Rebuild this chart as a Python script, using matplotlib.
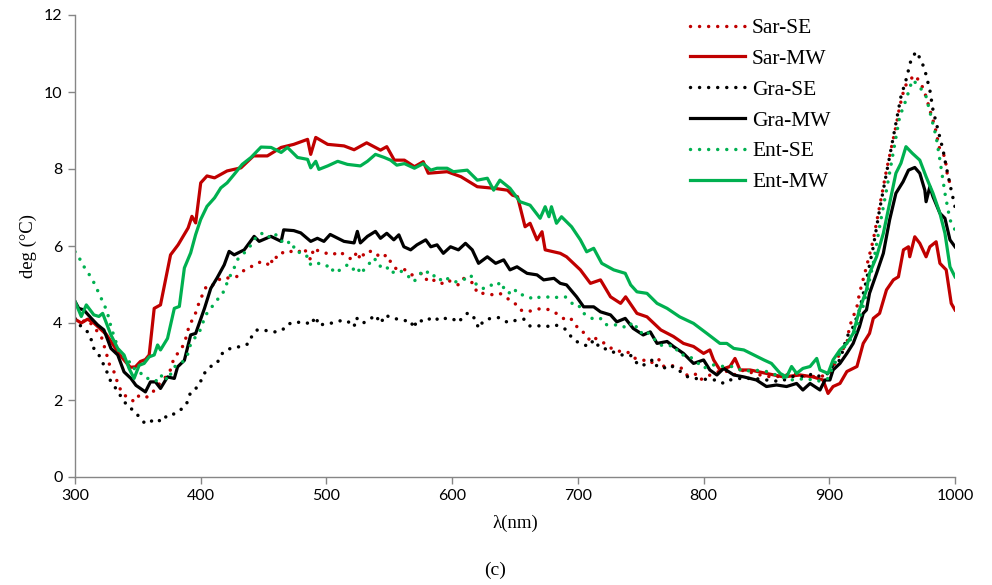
import matplotlib
matplotlib.use("Agg")
import matplotlib.pyplot as plt

# ---------------- data ----------------
sar_mw_x = [300,305,310,315,320,325,330,335,340,344,348,352,356,359,363,368,376,382,390,393,396,400,405,411,421,432,442,453,464,474,485,487.5,491.5,501,514,522,532,543,548,554,562,570,577,581,596,607,620,633,644,648,652,658,662,667.5,671.5,674,686,691,702,710,718,726,734,738,747,755,766,776,784,792,800,805,808,813,821,825,829,837,850,863.5,877,887,895,899,903,908.5,914,922,927,932,935,940,945.5,951,955,959,963,964,968,972,977,980,985,988,993,997,1000]
sar_mw_y = [4.1,4.0,4.1,4.0,3.85,3.7,3.45,3.2,3.0,2.85,2.86,3.0,3.05,3.17,4.38,4.47,5.77,6.03,6.47,6.77,6.6,7.64,7.82,7.77,7.95,8.03,8.34,8.34,8.56,8.64,8.77,8.38,8.82,8.64,8.6,8.5,8.68,8.49,8.58,8.23,8.23,8.06,8.19,7.89,7.93,7.8,7.54,7.5,7.45,7.32,7.28,6.5,6.59,6.16,6.37,5.9,5.81,5.72,5.38,5.03,5.12,4.68,4.51,4.68,4.25,4.16,3.82,3.65,3.47,3.39,3.21,3.3,3.04,2.78,2.87,3.08,2.78,2.78,2.69,2.6,2.65,2.6,2.52,2.17,2.35,2.43,2.74,2.87,3.47,3.73,4.12,4.25,4.86,5.12,5.2,5.9,5.98,5.72,6.24,6.07,5.72,5.98,6.11,5.55,5.38,4.51,4.34]

gra_mw_x = [300,303,307,313,318,323,328.6,334,339,344.5,348.5,356,360,364,368,373.6,379,381.6,387,392,396,403,408,413,418.7,422.6,426.6,434.6,442.5,446.5,455.8,464,466,474,479.6,487.5,492.8,498,503,514,522,524.6,527,532.6,539,543,548,553.6,557.6,561.6,567,572,579,583,588,593,598.7,605,610.6,616,621,628,634.6,641,646,651.6,659.6,667.5,672.8,681,686,691,699,704.6,712.6,718,726,731,737.7,744,752,757.6,763,771,776,784,792,800,805,810.6,816,824,832,842,850,858,866,874,879,884.7,892.6,896.6,900.5,903,908.5,914,919,924,927,929.6,932,937.6,943,948,953,958.7,963,968,972,976,977,980,982.5,988,992,996,1000]
gra_mw_y = [4.56,4.38,4.34,4.12,3.95,3.82,3.34,3.17,2.73,2.56,2.38,2.21,2.47,2.47,2.3,2.6,2.56,2.86,3.03,3.69,3.73,4.38,4.9,5.17,5.51,5.86,5.77,5.9,6.25,6.12,6.25,6.12,6.42,6.4,6.34,6.12,6.2,6.12,6.3,6.12,6.08,6.38,6.08,6.25,6.38,6.2,6.33,6.16,6.29,5.98,5.9,6.03,6.16,5.98,6.03,5.81,5.98,5.9,6.07,5.9,5.55,5.72,5.55,5.64,5.38,5.46,5.29,5.25,5.12,5.16,5.03,4.99,4.68,4.42,4.42,4.29,4.21,4.03,4.12,3.86,3.69,3.77,3.47,3.52,3.39,3.21,2.95,3.04,2.78,2.65,2.82,2.65,2.6,2.52,2.35,2.39,2.35,2.43,2.26,2.43,2.26,2.52,2.52,2.78,2.95,3.21,3.47,3.9,4.25,4.34,4.77,5.29,5.81,6.68,7.37,7.67,7.97,8.04,7.89,7.45,7.15,7.54,7.28,6.85,6.72,6.16,5.98]

ent_mw_x = [300,305,309,315,319,322,328.6,334,339,343,347,351,355,359,363,365.7,368,373.6,379,383,387,392,396,400,405,411,416,421,426.6,433,440,448,456,464,469,477,485,487.5,491.5,494,501,509,516.7,527,532.6,539,546,551,556,562,570,577,583,588,596,601,612,620,628,633,638,646,654,662,670,674,677,679,683,687,695,702,707,712.6,719,728.5,737.7,742,747,755,763,771,781,792,802.6,813,818.5,824,832,840,848,854,861,866,870,874,879,884.7,890,892.6,899,903,908.5,914,919,924,929.6,932,937.6,943,948,953,957,961,966,972,977,982.5,988,992,996,1000]
ent_mw_y = [4.56,4.17,4.47,4.21,4.17,4.25,3.69,3.34,3.17,2.82,2.56,2.9,2.95,3.12,3.17,3.43,3.3,3.6,4.38,4.43,5.43,5.82,6.3,6.69,7.03,7.25,7.51,7.64,7.86,8.12,8.3,8.57,8.56,8.43,8.56,8.3,8.25,8.03,8.2,7.99,8.08,8.2,8.12,8.08,8.2,8.38,8.3,8.23,8.1,8.14,8.02,8.14,7.97,8.02,8.02,7.93,7.97,7.71,7.76,7.45,7.71,7.5,7.15,7.06,6.72,7.02,6.76,7.02,6.59,6.76,6.5,6.16,5.85,5.94,5.55,5.38,5.29,4.99,4.81,4.77,4.51,4.38,4.16,3.99,3.73,3.47,3.47,3.34,3.3,3.17,3.04,2.95,2.69,2.6,2.87,2.69,2.82,2.87,3.08,2.78,2.69,3.04,3.3,3.47,3.73,4.34,4.86,5.29,5.72,6.33,7.11,7.89,8.15,8.58,8.41,8.23,7.8,7.37,6.85,6.33,5.46,5.2]

sar_se_x = [300,305,310,315,321,325,327,331,335,339,343,347,351,354,358,362,366,371,375,379,383,387,391,395,399,405,411,416,424,429,433,438.5,445,450,456,457,462,466,471.6,477,482,487.5,490,494,499,505,510,520.6,524.6,527,531,538,543,548,551,555,563,568,577,580.6,587,592,596,605,609,617,620,625,633,638,643.7,649,654,660,665,671.5,678,685,690,694,697,700.7,706,710,714,719,728.5,734,739,745.7,752,757.6,764,767,773,783,786.7,793,797,802.6,808,816,824,832,840,850,861,871,882,892.6,899,903,908.5,914,916,922,924,929.6,935,940,945.5,949.5,953,956,960,964,968,973,977,980,984,988,992,994.5,1000]
sar_se_y = [4.08,4.03,4.08,3.9,3.64,3.21,2.95,2.73,2.34,2.12,2.08,1.95,2.12,2.08,2.08,2.21,2.38,2.56,2.69,3.12,3.25,3.47,3.95,4.17,4.56,4.99,4.99,5.17,5.17,5.21,5.34,5.43,5.56,5.6,5.47,5.73,5.69,5.86,5.86,5.82,5.95,5.64,5.95,5.86,5.82,5.77,5.86,5.64,5.86,5.64,5.86,5.86,5.69,5.77,5.59,5.42,5.38,5.25,5.29,5.07,5.12,5.03,5.12,4.99,5.16,5.03,4.77,4.77,4.73,4.77,4.64,4.55,4.34,4.29,4.34,4.38,4.34,4.21,4.08,4.12,4.03,3.82,3.73,3.52,3.6,3.52,3.3,3.26,3.26,3.08,3.04,2.95,3.08,2.87,2.91,2.82,2.65,2.69,2.52,2.61,2.69,2.78,2.65,2.78,2.69,2.61,2.61,2.69,2.61,2.61,2.65,2.87,3.21,3.47,3.9,4.42,4.77,5.46,6.16,7.02,7.97,8.58,9.1,9.62,10.14,10.31,10.44,10.22,9.88,9.53,9.1,8.49,8.32,7.71,7.54]

gra_se_x = [300,305,310,313,315,319,325,327,331,334,338,342,347,351,356,362,366,368,372,376,381.6,385.6,389.5,392,396,399,401.5,405,409,413,416,420,424,428,432,438.5,441,445,450,456,461,465,470,474,478,483.6,487.5,491.5,494,499.5,506,513,518,522,523.6,528.6,534,539,543,547,552,557.6,563,567,569.5,572,579,584,590.7,594.7,600,605,609,613,618.5,621,625,630.5,637,641,645,651.6,657,662,667.5,673,678,683,690,696.7,702,708.6,712.6,718,724.5,730,735,741.7,745.7,749.7,755,760,763,768,773,780,786.7,793,801,805,810.6,816,821,829,840,850,861,871,882,887,892.6,899,903,908.5,914,919,924,929.6,935,940,945.5,949.5,953,957,961,965,969,973,976,980,982.5,986.5,990.5,993,997,1000]
gra_se_y = [4.12,3.9,3.77,3.56,3.34,3.17,2.77,2.56,2.38,2.21,2.03,1.82,1.73,1.56,1.38,1.47,1.51,1.43,1.56,1.56,1.73,1.77,1.95,2.21,2.3,2.38,2.64,2.77,2.9,2.95,3.17,3.3,3.34,3.38,3.38,3.47,3.69,3.82,3.82,3.77,3.77,3.82,3.99,3.97,4.02,4.02,3.95,4.17,3.93,3.99,4.0,4.08,4.02,3.9,4.14,3.99,4.08,4.21,3.99,4.21,4.12,4.1,4.06,4.06,3.86,4.08,4.03,4.16,4.06,4.12,4.12,4.01,4.18,4.27,4.1,3.86,4.06,4.12,4.14,4.06,4.01,4.08,4.1,3.92,3.92,3.94,3.9,3.94,3.84,3.56,3.47,3.39,3.56,3.34,3.32,3.21,3.17,3.17,3.0,2.88,2.94,3.06,2.87,2.82,2.91,2.78,2.61,2.56,2.54,2.52,2.52,2.43,2.52,2.56,2.56,2.52,2.48,2.61,2.61,2.69,2.61,2.69,2.91,3.04,3.64,3.9,4.34,5.12,5.98,6.94,7.89,8.58,9.19,9.88,10.31,10.83,11.05,10.83,10.57,10.05,9.53,9.01,8.49,8.06,7.45,7.02]

ent_se_x = [300,302.6,305,309,313,316,319,322,325,327,328.6,330.7,333,335,338,340.5,344.5,348.5,352.5,356,362,366,370,373.6,379,385.6,389.5,391,395,399,401.5,404,408,413,417,422.6,426.6,429,434.6,438.5,442.5,448,453,458.5,464,469,471.6,475.6,479.6,485,487.5,492.8,499.5,503,506,511,516.7,520.6,524.6,527,531,538,542,547,551,557.6,564,569.5,575,579,583,588,592,597,603,609,614.6,618.5,622.5,626.5,630.5,634.6,638.6,642.6,645,649,653,658,665,670,675.6,679.5,685,690,696.7,700.7,703,708.6,714,719,723,728.5,734,739,744,749.7,753.6,759,765.6,771,776,781.5,786.7,793,800,805,808,816,824,832,840,850,861,871,882,890,899,903,908.5,914,919,924,929.6,935,940,945.5,950.8,956,961,966,971,977,981,985,988,992,996,1000]
ent_se_y = [5.85,5.77,5.56,5.38,5.17,4.99,4.77,4.56,4.34,4.12,3.9,3.69,3.47,3.25,3.21,2.99,2.99,2.73,2.69,2.56,2.56,2.47,2.69,2.51,2.86,2.99,3.17,3.38,3.6,3.77,3.99,4.21,4.38,4.6,4.73,5.17,5.43,5.64,5.82,5.95,6.17,6.34,6.21,6.34,6.12,6.17,5.95,5.99,5.77,5.73,5.51,5.56,5.47,5.51,5.3,5.38,5.51,5.38,5.47,5.27,5.43,5.69,5.47,5.51,5.29,5.38,5.25,5.07,5.29,5.38,5.2,5.25,5.07,5.16,5.07,5.12,5.25,5.03,4.9,4.9,4.99,4.94,5.07,4.81,4.77,4.9,4.73,4.73,4.61,4.68,4.68,4.64,4.68,4.68,4.47,4.47,4.29,4.16,4.08,4.12,3.95,3.95,3.95,3.86,4.03,3.73,3.82,3.64,3.43,3.39,3.43,3.17,3.17,3.04,2.82,2.91,2.91,2.87,2.87,2.74,2.78,2.74,2.61,2.52,2.56,2.48,2.56,2.87,3.21,3.47,3.64,4.08,4.77,5.55,6.5,7.45,8.41,9.36,9.79,10.31,10.18,9.88,9.36,8.84,8.23,7.37,6.68,6.42]

series_names = ["Sar-SE", "Sar-MW", "Gra-SE", "Gra-MW", "Ent-SE", "Ent-MW"]
x_ticks = [300, 400, 500, 600, 700, 800, 900, 1000]
y_ticks = [0, 2, 4, 6, 8, 10, 12]

RED = "#C00000"
GREEN = "#00B050"
BLACK = "#000000"
SERIF = ["Liberation Serif", "DejaVu Serif"]

fig = plt.figure(figsize=(9.92, 5.85), dpi=100)
ax = fig.add_axes([75/992, 108/585, 880/992, 462/585])

dot = dict(linestyle=(0, (0.01, 2.6)), dash_capstyle="round", linewidth=2.5)
solid = dict(linestyle="-", linewidth=2.3, solid_joinstyle="round")

data = [
    (sar_se_x, sar_se_y, RED, dot),
    (sar_mw_x, sar_mw_y, RED, solid),
    (gra_se_x, gra_se_y, BLACK, dot),
    (gra_mw_x, gra_mw_y, BLACK, solid),
    (ent_se_x, ent_se_y, GREEN, dot),
    (ent_mw_x, ent_mw_y, GREEN, solid),
]
handles = []
for (xs, ys, c, sty), name in zip(data, series_names):
    ln, = ax.plot(xs, ys, color=c, label=name, **sty)
    handles.append(ln)

ax.set_xlim(300, 1000)
ax.set_ylim(0, 12)
ax.set_xticks(x_ticks)
ax.set_yticks(y_ticks)
for s in ["top", "right"]:
    ax.spines[s].set_visible(False)
for s in ["left", "bottom"]:
    ax.spines[s].set_color("#868686")
    ax.spines[s].set_linewidth(1.0)
ax.tick_params(axis="both", direction="out", length=5, width=1.0, color="#868686",
               labelsize=11.5, pad=4)
for lab in ax.get_xticklabels() + ax.get_yticklabels():
    lab.set_fontfamily(["Lato", "DejaVu Sans"])

ax.set_xlabel("λ(nm)", fontsize=13.5, fontfamily=SERIF, labelpad=8)
ax.set_ylabel("deg (°C)", fontsize=13.5, fontfamily=SERIF, labelpad=5)

leg = ax.legend(handles=handles, loc="upper left", frameon=False, handlelength=2.55,
                handletextpad=0.33, labelspacing=0.5, borderaxespad=0.0, borderpad=0.0,
                prop={"family": SERIF, "size": 15.5})
leg.set_bbox_to_anchor((690/992, 1 - 18/585), transform=fig.transFigure)

fig.text(495/992, 1 - 570/585, "(c)", ha="center", va="center", fontsize=14,
         fontfamily=SERIF)

fig.savefig("out.png", dpi=100)
